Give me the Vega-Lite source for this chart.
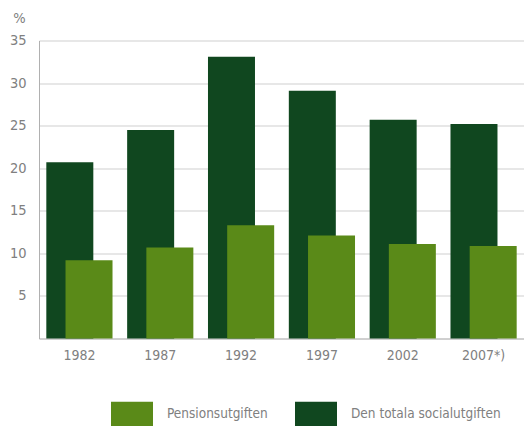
{
  "$schema": "https://vega.github.io/schema/vega-lite/v6.json",
  "width": 485,
  "height": 298,
  "autosize": {"type": "none"},
  "padding": {"left": 39, "top": 40.5, "right": 0, "bottom": 90.5},
  "background": "white",
  "config": {
    "view": {"stroke": null},
    "font": "DejaVu Sans Condensed, sans-serif",
    "axis": {"labelFont": "DejaVu Sans Condensed, sans-serif", "labelFontSize": 14.5, "labelColor": "#808080", "domainColor": "#b0b0b0", "ticks": false, "gridColor": "#cfcfcf", "gridWidth": 1},
    "legend": {"labelFont": "DejaVu Sans Condensed, sans-serif"}
  },
  "data": {
    "values": [
      {"year": "1982", "serie": "Den totala socialutgiften", "value": 20.7},
      {"year": "1987", "serie": "Den totala socialutgiften", "value": 24.5},
      {"year": "1992", "serie": "Den totala socialutgiften", "value": 33.1},
      {"year": "1997", "serie": "Den totala socialutgiften", "value": 29.1},
      {"year": "2002", "serie": "Den totala socialutgiften", "value": 25.7},
      {"year": "2007*)", "serie": "Den totala socialutgiften", "value": 25.2},
      {"year": "1982", "serie": "Pensionsutgiften", "value": 9.2},
      {"year": "1987", "serie": "Pensionsutgiften", "value": 10.7},
      {"year": "1992", "serie": "Pensionsutgiften", "value": 13.3},
      {"year": "1997", "serie": "Pensionsutgiften", "value": 12.1},
      {"year": "2002", "serie": "Pensionsutgiften", "value": 11.1},
      {"year": "2007*)", "serie": "Pensionsutgiften", "value": 10.85}
    ]
  },
  "encoding": {
    "x": {
      "field": "year", "type": "nominal", "sort": null,
      "scale": {"paddingInner": 0, "paddingOuter": 0},
      "axis": {"title": null, "labelAngle": 0, "labelPadding": 10, "labelFontSize": 14, "grid": false, "domainColor": "#a0a0a0"}
    },
    "y": {
      "field": "value", "type": "quantitative",
      "scale": {"domain": [0, 35], "nice": false},
      "axis": {
        "values": [5, 10, 15, 20, 25, 30, 35],
        "title": "%", "titleAngle": 0, "titleX": -20, "titleY": -22, "titleAlign": "center", "titleBaseline": "middle",
        "titleFont": "DejaVu Sans Condensed, sans-serif", "titleFontSize": 14.5, "titleFontWeight": "normal", "titleColor": "#808080",
        "labelPadding": 13, "grid": true
      }
    },
    "color": {
      "field": "serie", "type": "nominal",
      "scale": {"domain": ["Pensionsutgiften", "Den totala socialutgiften"], "range": ["#5a8a18", "#10471f"]},
      "legend": {
        "title": null, "orient": "none", "direction": "horizontal", "columns": 2,
        "legendX": 72, "legendY": 352,
        "symbolType": "M-1,-0.58H1V0.58H-1Z", "symbolSize": 1764, "symbolStrokeWidth": 0, "symbolOpacity": 1,
        "labelFontSize": 13.5, "labelColor": "#808080", "labelOffset": 14, "labelLimit": 400, "columnPadding": 27
      }
    }
  },
  "layer": [
    {
      "transform": [{"filter": "datum.serie === 'Den totala socialutgiften'"}],
      "mark": {"type": "bar", "width": 47, "xOffset": -9.6, "opacity": 1}
    },
    {
      "transform": [{"filter": "datum.serie === 'Pensionsutgiften'"}],
      "mark": {"type": "bar", "width": 47, "xOffset": 9.6, "opacity": 1}
    }
  ]
}
